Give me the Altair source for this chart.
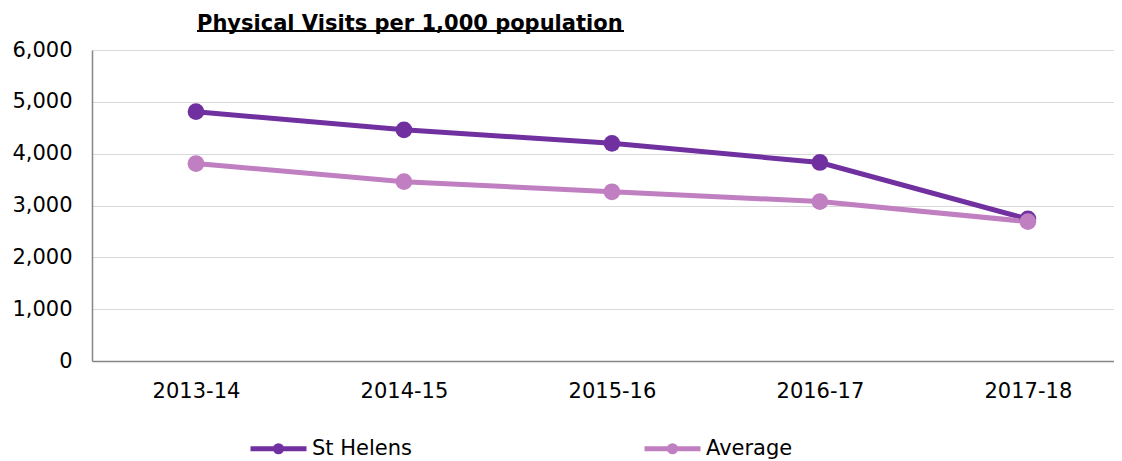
import altair as alt
import pandas as pd

years = ["2013-14", "2014-15", "2015-16", "2016-17", "2017-18"]
st_helens = [4810, 4460, 4200, 3830, 2740]
average = [3810, 3460, 3265, 3075, 2690]
series_names = ["St Helens", "Average"]
series_colors = ["#7030A0", "#C07FC0"]
y_ticks = [0, 1000, 2000, 3000, 4000, 5000, 6000]
title_text = "Physical Visits per 1,000 population"

rows = []
for name, vals in zip(series_names, [st_helens, average]):
    for yr, v in zip(years, vals):
        rows.append({"year": yr, "value": v, "series": name})
df = pd.DataFrame(rows)

FONT = "DejaVu Sans"
legend_symbol = ("M-1,0L1,0 M-0.11,0A0.11,0.11 0 1,1 0.11,0A0.11,0.11 0 1,1 -0.11,0Z")

x_enc = alt.X("year:N", sort=years, title=None,
              scale=alt.Scale(type="point", padding=0.457, align=0.547),
              axis=alt.Axis(labelAngle=0, ticks=False, grid=False, labelPadding=19,
                            domainColor="#868686", domainWidth=1.5))
y_enc = alt.Y("value:Q", title=None,
              scale=alt.Scale(domain=[0, 6000], nice=False),
              axis=alt.Axis(values=y_ticks, format=",.0f", ticks=False, labelPadding=20,
                            domainColor="#868686", domainWidth=1.5,
                            gridColor="#D9D9D9", gridWidth=1))
color_enc = alt.Color("series:N", sort=series_names,
                      scale=alt.Scale(domain=series_names, range=series_colors),
                      legend=alt.Legend(title=None, orient="none", legendX=156, legendY=368,
                                        direction="horizontal", columns=2,
                                        columnPadding=222,
                                        symbolType=legend_symbol, symbolSize=3136,
                                        symbolStrokeWidth=5, labelOffset=3,
                                        labelFontSize=21, labelFont=FONT,
                                        labelColor="#000000"))

lines = alt.Chart(df).mark_line(strokeWidth=5).encode(x=x_enc, y=y_enc, color=color_enc)
points = alt.Chart(df).mark_point(filled=True, size=280, opacity=1).encode(
    x=x_enc, y=y_enc, color=color_enc)

underline = alt.Chart(pd.DataFrame({"a": [0]})).mark_rule(color="#000000", strokeWidth=2).encode(
    x=alt.value(105), x2=alt.value(532), y=alt.value(-19))

chart = alt.layer(lines, points, underline).properties(
    width=1022, height=311,
    padding={"left": 84, "top": 42, "right": 0, "bottom": 100},
    autosize=alt.AutoSizeParams(type="none"),
    title=alt.TitleParams(text=title_text, font=FONT, fontSize=21, fontWeight="bold",
                          anchor="start", frame="group", dx=105, offset=-4,
                          color="#000000"),
).configure_axis(
    labelFont=FONT, labelFontSize=21, labelColor="#000000"
).configure_view(stroke=None)

chart.save("out.html", embed_options={"renderer": "svg", "actions": False})
